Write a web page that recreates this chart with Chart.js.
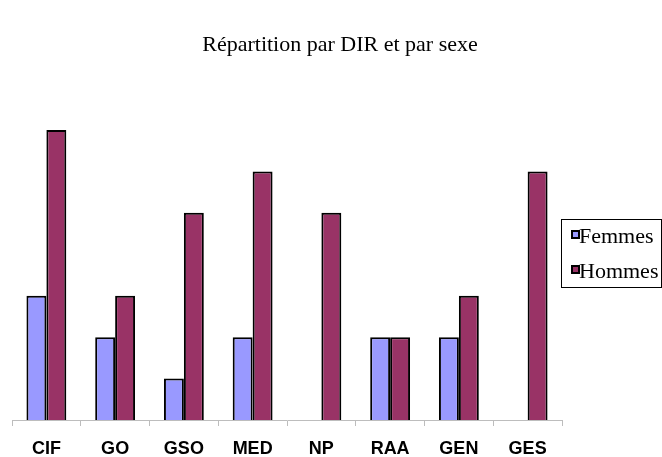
<!DOCTYPE html>
<html lang="fr">
<head>
<meta charset="utf-8">
<title>Répartition par DIR et par sexe</title>
<script src="https://cdn.jsdelivr.net/npm/chart.js@4"></script>
<style>
  html, body { margin: 0; padding: 0; background: #fff; }
  #repartition { display: block; }
</style>
</head>
<body>
<canvas id="repartition" width="662" height="457"></canvas>
<script>
// Effectifs par direction
const directions = ['CIF', 'GO', 'GSO', 'MED', 'NP', 'RAA', 'GEN', 'GES'];
const femmes = [3, 2, 1, 2, 0, 2, 2, 0];
const hommes = [7, 3, 5, 6, 5, 2, 3, 6];

const titre = 'Répartition par DIR et par sexe';
const policeSerif = '"Liberation Serif", "Times New Roman", serif';

// titre centré au-dessus du graphique
const titrePlugin = {
    id: 'titre',
    afterDraw(chart) {
        const ctx = chart.ctx;
        ctx.save();
        ctx.fillStyle = '#000';
        ctx.font = '22px ' + policeSerif;
        ctx.textAlign = 'center';
        ctx.textBaseline = 'alphabetic';
        ctx.fillText(titre, 340, 51);
        ctx.restore();
    }
};

// légende encadrée à droite, façon Excel
const legendePlugin = {
    id: 'legendeCadre',
    afterDraw(chart) {
        const ctx = chart.ctx;
        const x = 561, y = 219, w = 100, h = 68;
        ctx.save();
        ctx.strokeStyle = '#000';
        ctx.lineWidth = 1;
        ctx.strokeRect(x + 0.5, y + 0.5, w, h);
        ctx.font = '22px ' + policeSerif;
        ctx.textBaseline = 'alphabetic';
        ctx.textAlign = 'left';
        chart.data.datasets.forEach(function(ds, i) {
            const base = 243 + i * 35;
            ctx.fillStyle = ds.backgroundColor;
            ctx.fillRect(x + 11, base - 12, 7, 7);
            ctx.lineWidth = 2;
            ctx.strokeStyle = '#000';
            ctx.strokeRect(x + 11, base - 12, 7, 7);
            ctx.fillStyle = '#000';
            ctx.fillText(ds.label, x + 18, base);
        });
        ctx.restore();
    }
};

const ctx = document.getElementById('repartition').getContext('2d');

new Chart(ctx, {
    type: 'bar',
    data: {
        labels: directions,
        datasets: [
            {
                label: 'Femmes',
                data: femmes,
                backgroundColor: '#9999FF',
                borderColor: '#000',
                borderWidth: 2
            },
            {
                label: 'Hommes',
                data: hommes,
                backgroundColor: '#993366',
                borderColor: '#000',
                borderWidth: 2
            }
        ]
    },
    options: {
        responsive: false,
        animation: false,
        layout: {
            padding: { top: 130, left: 12, right: 100, bottom: 0 }
        },
        datasets: {
            bar: {
                categoryPercentage: 0.58,
                barPercentage: 1
            }
        },
        plugins: {
            legend: { display: false },
            title: { display: false },
            tooltip: { enabled: false }
        },
        scales: {
            x: {
                afterFit(scale) {
                    scale.height = 37;
                },
                grid: {
                    display: true,
                    drawOnChartArea: false,
                    drawTicks: true,
                    tickLength: 6,
                    color: '#bdbdbd'
                },
                border: { display: true, color: '#bdbdbd' },
                ticks: {
                    color: '#000',
                    padding: 12,
                    font: { family: '"Liberation Sans", Arial, sans-serif', size: 18, weight: 'bold' }
                }
            },
            y: {
                display: false,
                min: 0,
                max: 7
            }
        }
    },
    plugins: [titrePlugin, legendePlugin]
});
</script>
</body>
</html>
